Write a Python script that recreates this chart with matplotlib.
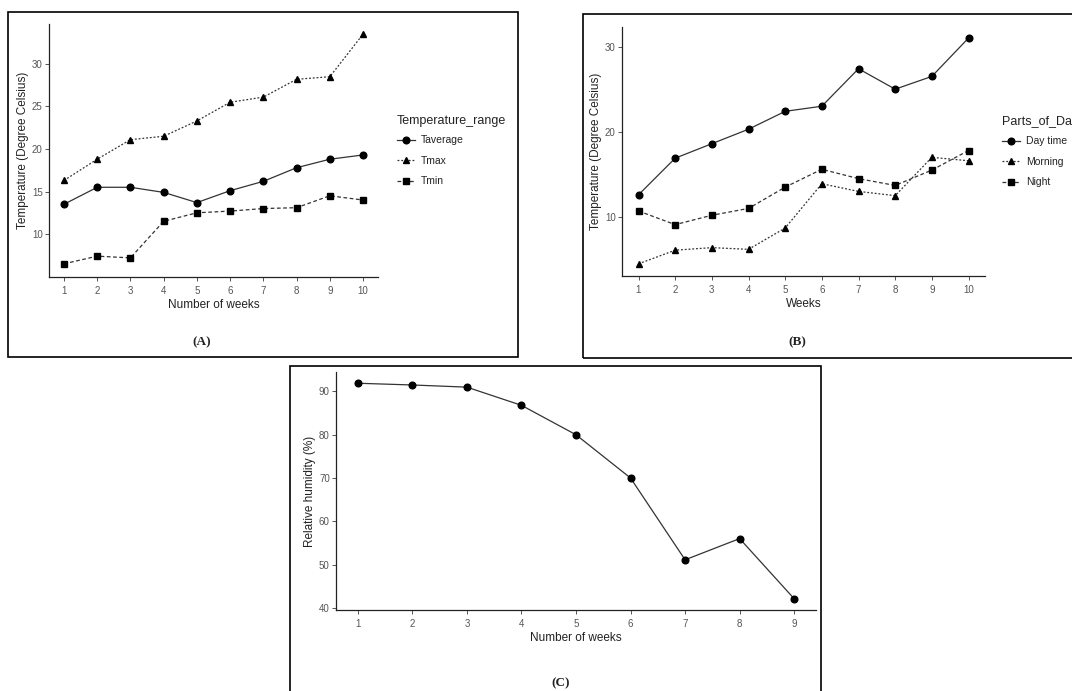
import matplotlib.pyplot as plt
from matplotlib.patches import Rectangle
from matplotlib.lines import Line2D

plt.rcParams['font.family'] = ['Liberation Sans', 'DejaVu Sans']

# Panel A data
weeks_a = [1, 2, 3, 4, 5, 6, 7, 8, 9, 10]
t_average = [13.5, 15.5, 15.5, 14.9, 13.7, 15.1, 16.2, 17.8, 18.8, 19.3]
t_max = [16.3, 18.8, 21.1, 21.5, 23.3, 25.5, 26.1, 28.2, 28.5, 33.5]
t_min = [6.5, 7.4, 7.2, 11.5, 12.5, 12.7, 13.0, 13.1, 14.5, 14.0]

# Panel B data
weeks_b = [1, 2, 3, 4, 5, 6, 7, 8, 9, 10]
day_time = [12.6, 16.9, 18.6, 20.3, 22.4, 23.0, 27.4, 25.0, 26.5, 31.0]
morning = [4.5, 6.1, 6.4, 6.2, 8.7, 13.9, 13.0, 12.5, 17.0, 16.6]
night = [10.7, 9.1, 10.2, 11.0, 13.5, 15.6, 14.5, 13.7, 15.5, 17.8]

# Panel C data
weeks_c = [1, 2, 3, 4, 5, 6, 7, 8, 9]
humidity = [91.9, 91.5, 91.0, 86.8, 80.0, 70.0, 51.1, 56.0, 42.1]

W, H = 1072, 691
fig = plt.figure(figsize=(W / 100, H / 100), dpi=100)


def fx(x):
    return x / W


def fy(y):
    return 1 - y / H


def add_axes(left, top, right, bottom):
    return fig.add_axes([fx(left), fy(bottom), fx(right - left), (bottom - top) / H])


def style(ax, xlabel, ylabel, xt, yt):
    for s in ['top', 'right']:
        ax.spines[s].set_visible(False)
    for s in ['left', 'bottom']:
        ax.spines[s].set_color('#222222')
        ax.spines[s].set_linewidth(0.9)
    ax.set_xticks(xt)
    ax.set_yticks(yt)
    ax.tick_params(colors='#555555', labelsize=7, length=3, width=0.7)
    ax.tick_params(axis='y', pad=1.5)
    ax.set_xlabel(xlabel, fontsize=8.5, color='#222222', labelpad=2)
    ax.set_ylabel(ylabel, fontsize=8.5, color='#222222', labelpad=2)
    ax.set_facecolor('none')


line_kw = dict(color='#333333', lw=0.9, markerfacecolor='black', markeredgecolor='black', markersize=4.8)

# ---- Panel A ----
axA = add_axes(49, 24, 378, 277)
axA.plot(weeks_a, t_average, ls='-', marker='o', **line_kw)
axA.plot(weeks_a, t_max, ls=(0, (1.5, 1.5)), marker='^', **line_kw)
axA.plot(weeks_a, t_min, ls=(0, (3, 2)), marker='s', **line_kw)
axA.set_xlim(0.55, 10.45)
axA.set_ylim(4.95, 34.7)
style(axA, 'Number of weeks', 'Temperature (Degree Celsius)', weeks_a, [10, 15, 20, 25, 30])

# ---- Panel B ----
axB = add_axes(622, 27, 985, 276)
axB.plot(weeks_b, day_time, ls='-', marker='o', **line_kw)
axB.plot(weeks_b, morning, ls=(0, (1.5, 1.5)), marker='^', **line_kw)
axB.plot(weeks_b, night, ls=(0, (3, 2)), marker='s', **line_kw)
axB.set_xlim(0.55, 10.45)
axB.set_ylim(3.07, 32.3)
style(axB, 'Weeks', 'Temperature (Degree Celsius)', weeks_b, [10, 20, 30])

# ---- Panel C ----
axC = add_axes(336, 372, 816, 610)
axC.plot(weeks_c, humidity, ls='-', marker='o', **line_kw)
axC.set_xlim(0.6, 9.4)
axC.set_ylim(39.5, 94.5)
style(axC, 'Number of weeks', 'Relative humidity (%)', weeks_c, [40, 50, 60, 70, 80, 90])


def legend(title, labels, styles, markers, x, y):
    handles = [Line2D([], [], ls=s, marker=m, **line_kw) for s, m in zip(styles, markers)]
    leg = fig.legend(handles, labels, title=title, loc='upper left',
                     bbox_to_anchor=(fx(x), fy(y)), frameon=False, fontsize=7.5,
                     title_fontsize=9, handlelength=1.7, handletextpad=0.6,
                     labelspacing=1.0, borderaxespad=0, borderpad=0)
    leg._legend_box.align = 'left'
    leg._legend_box.sep = 6
    leg.get_title().set_color('#222222')
    for t in leg.get_texts():
        t.set_color('#222222')


styles3 = ['-', (0, (1.5, 1.5)), (0, (3, 2))]
markers3 = ['o', '^', 's']
legend('Temperature_range', ['Taverage', 'Tmax', 'Tmin'], styles3, markers3, 397, 115)
legend('Parts_of_Day', ['Day time', 'Morning', 'Night'], styles3, markers3, 1002, 116)

# panel frames and captions
for (l, t, r, b) in [(8, 12, 518, 357), (583, 14, 1076, 358), (290, 366, 821, 696)]:
    fig.add_artist(Rectangle((fx(l), fy(b)), fx(r - l), (b - t) / H, transform=fig.transFigure,
                             fill=False, edgecolor='black', lw=1.2, clip_on=False))

for label, x, y in [('(A)', 202, 342), ('(B)', 797, 342), ('(C)', 561, 683)]:
    fig.text(fx(x), fy(y), label, ha='center', va='center', fontsize=9.5,
             fontweight='bold', family='Liberation Serif', color='#222222')

plt.savefig('out.png', dpi=100, facecolor='white')
